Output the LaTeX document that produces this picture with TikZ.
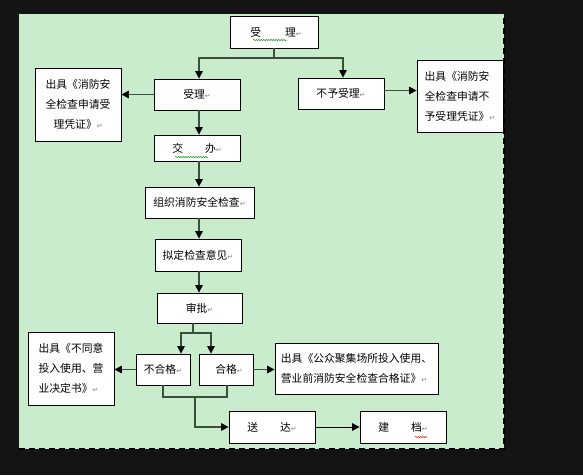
\documentclass[tikz,border=0pt]{standalone}
\usepackage{fontspec}
\setmainfont{Noto Sans CJK SC}
\newfontfamily\dejavu{DejaVu Sans}
\usetikzlibrary{arrows.meta,decorations.pathmorphing}
\definecolor{bgg}{RGB}{200,236,204}
\definecolor{lnc}{RGB}{58,80,58}
\definecolor{blk}{RGB}{20,20,20}
\newcommand\parmark{{\dejavu\fontsize{7}{7}\selectfont\color{gray}↵}}
\tikzset{
 box/.style={draw=black, line width=0.8pt, fill=white, inner sep=0pt, font=\fontsize{10.8}{20}\selectfont},
 conn/.style={draw=lnc, line width=1.3pt},
 arr/.style={conn, -{Triangle[length=7.5pt,width=7.5pt,color=black]}},
 wavy/.style={decorate, decoration={snake, amplitude=0.6pt, segment length=2.5pt}, line width=0.5pt},
}
\begin{document}
\begin{tikzpicture}[x=1pt,y=-1pt]
\useasboundingbox (0,0) rectangle (583,475);
\fill[blk] (0,0) rectangle (583,475);
\fill[bgg] (19,14) rectangle (504,449);
\draw[black, line width=1.6pt, dash pattern=on 6pt off 4pt] (19,449) -- (504,449) -- (504,14);

% nodes
\node[box, minimum width=88pt, minimum height=32pt] (top) at (274,32) {\hspace{4pt}受\hspace{24pt}理\parmark};
\node[box, minimum width=86pt, minimum height=31pt] (sl) at (197,94.5) {受理\parmark};
\node[box, minimum width=86pt, minimum height=31pt] (by) at (341,93.5) {不予受理\parmark};
\node[box, minimum width=86pt, minimum height=73pt, align=left] (L1) at (78,104.5) {出具《消防安\\全检查申请受\\\hspace*{8pt}理凭证》\parmark};
\node[box, minimum width=86pt, minimum height=72pt, align=left] (R1) at (460,96) {出具《消防安\\全检查申请不\\予受理凭证》\parmark};
\node[box, minimum width=86pt, minimum height=26pt] (jb) at (197,148) {交\hspace{22pt}办\parmark};
\node[box, minimum width=109pt, minimum height=31pt] (zz) at (199.5,202.5) {组织消防安全检查\parmark};
\node[box, minimum width=86pt, minimum height=32pt] (nd) at (198,255) {拟定检查意见\parmark};
\node[box, minimum width=85pt, minimum height=30pt] (sp) at (199.5,308) {审批\parmark};
\node[box, minimum width=54pt, minimum height=31pt] (bhg) at (163,369.5) {不合格\parmark};
\node[box, minimum width=54pt, minimum height=31pt] (hg) at (226,369.5) {\hspace{6pt}合格\parmark};
\node[box, minimum width=86pt, minimum height=73pt, align=left] (L2) at (71,368.5) {出具《不同意\\投入使用、营\\业决定书》\parmark};
\node[box, minimum width=163pt, minimum height=51pt, align=left] (R2) at (356.5,368.5) {出具《公众聚集场所投入使用、\\营业前消防安全检查合格证》\parmark};
\node[box, minimum width=86pt, minimum height=32pt] (sd) at (272,427) {送\hspace{22pt}达\parmark};
\node[box, minimum width=86pt, minimum height=32pt] (jd) at (403,427) {建\hspace{22pt}档\parmark};

% spell-check marks
\draw[wavy, green!55!black] (253,40) -- (287,40);
\draw[wavy, green!55!black] (175,157) -- (208,157);
\draw[wavy, red] (415,437) -- (427,437);

% connectors
\coordinate (j1) at (274,58);
\draw[conn] (top.south) -- (j1);
\draw[arr] (j1) -| ([xshift=2pt]sl.north);
\draw[arr] (j1) -| ([xshift=2pt]by.north);
\draw[arr] (sl.west) -- (sl.west -| L1.east);
\draw[arr] ([yshift=3pt]by.east) -- ([yshift=3pt]by.east -| R1.west);
\coordinate (vx) at (199,0);
\draw[arr] (vx |- sl.south) -- (vx |- jb.north);
\draw[arr] (vx |- jb.south) -- (vx |- zz.north);
\draw[arr] (vx |- zz.south) -- (vx |- nd.north);
\draw[arr] (vx |- nd.south) -- (vx |- sp.north);
\coordinate (j2) at (193,333);
\draw[conn] (j2 |- sp.south) -- (j2);
\draw[arr] (j2) -| ([xshift=18pt]bhg.north);
\draw[arr] (j2) -| ([xshift=-15pt]hg.north);
\draw[arr] (bhg.west) -- (bhg.west -| L2.east);
\draw[arr] (hg.east) -- (hg.east -| R2.west);
\coordinate (j3) at (195,397);
\draw[conn] (bhg.south) |- (j3);
\draw[conn] ([xshift=1pt]hg.south) |- (j3);
\draw[arr] (j3) |- (sd.west);
\draw[draw=black, line width=0.9pt, -{Triangle[length=7.5pt,width=7.5pt]}] (sd.east) -- (jd.west);
\end{tikzpicture}
\end{document}
